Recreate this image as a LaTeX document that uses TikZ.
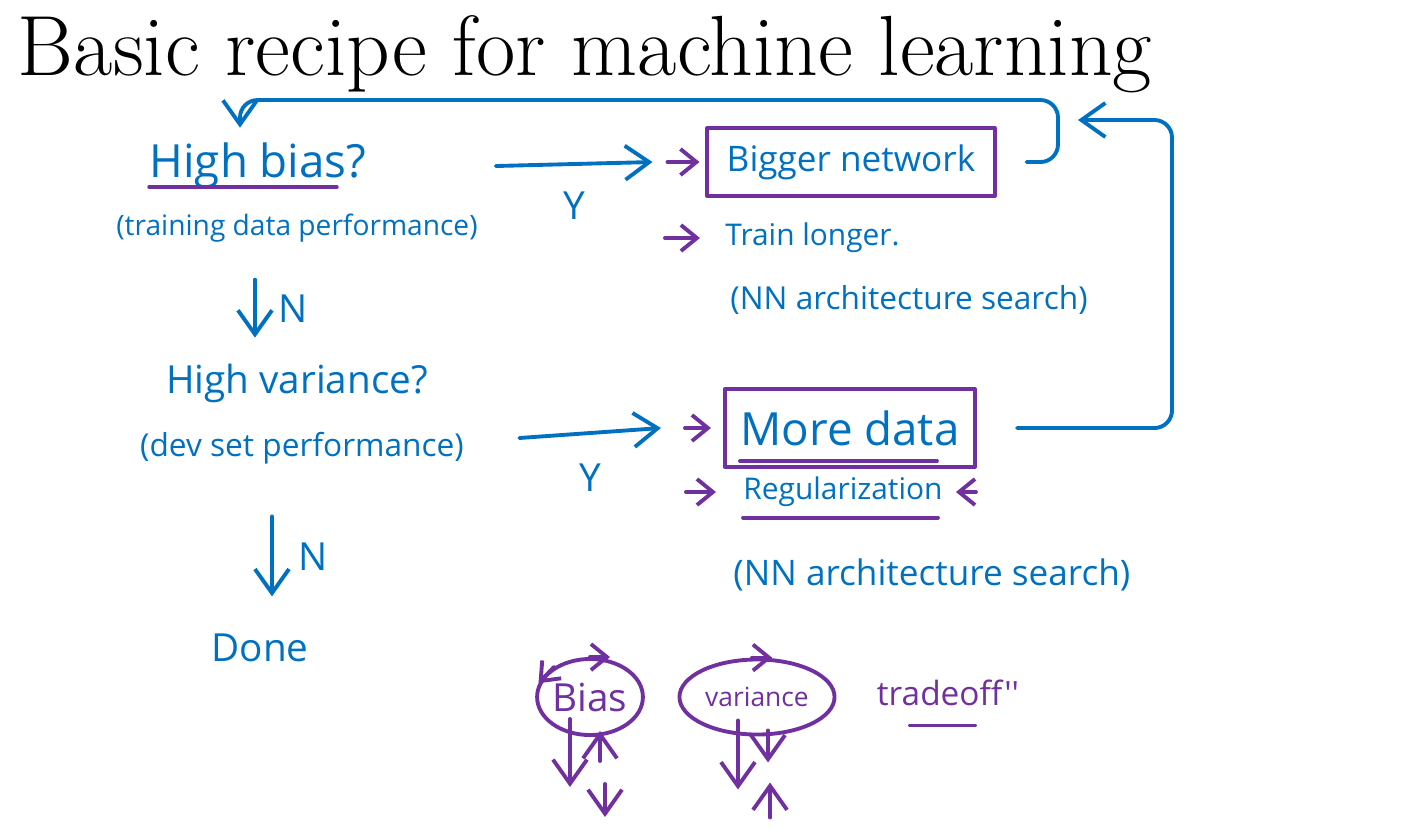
\documentclass[tikz,border=0pt]{standalone}
\usepackage{fontspec}
\newfontfamily\handfont{Open Sans}
\usetikzlibrary{arrows.meta, positioning, shapes.geometric, calc}
\definecolor{inkblue}{HTML}{0070C0}
\definecolor{inkpurple}{HTML}{7030A0}
\tikzset{
  every picture/.style={line width=1.1pt, line cap=round, line join=round},
  hand/.style={text=#1, font=\handfont\fontsize{11}{13}\selectfont, inner sep=1pt},
  hand/.default=inkblue,
  note/.style={hand, font=\handfont\fontsize{9}{11}\selectfont},
  fixbox/.style={hand, draw=inkpurple, inner sep=4pt},
  loopy/.style={ellipse, draw=inkpurple, hand=inkpurple, inner sep=0pt},
  inkarrow/.style={draw=#1, -{Straight Barb[length=2.4mm, width=3.4mm]}},
  inkarrow/.default=inkblue,
  smallarrow/.style={draw=inkpurple, -{Straight Barb[length=1.6mm, width=2.6mm]}},
}

\begin{document}
\begin{tikzpicture}[x=0.01cm, y=-0.01cm]
  \useasboundingbox (0,0) rectangle (1421,838);
  % title
  \node[anchor=base west, inner sep=0pt, font=\fontsize{24.3}{29}\selectfont] (title) at (16,75) {Basic recipe for machine learning};
  % questions, left column
  \node[hand, font=\handfont\fontsize{13}{15}\selectfont] (hb) at (258,166) {High bias?};
  \node[note, font=\handfont\fontsize{8}{10}\selectfont] (hbnote) at (297,228) {(training data performance)};
  \node[hand] (hv) at (297,383) {High variance?};
  \node[note] (hvnote) at (302,448) {(dev set performance)};
  \node[hand] (done) at (260,648) {Done};
  \draw[inkpurple] ([xshift=0.05cm, yshift=2pt]hb.south west) -- ([xshift=-0.35cm, yshift=2pt]hb.south east);
  \draw[inkarrow] ([xshift=-0.42cm, yshift=-0.32cm]hbnote.south) -- ++(0,58) node[midway, right=5pt, hand] {N};
  \draw[inkarrow] ([xshift=-0.3cm, yshift=-0.47cm]hvnote.south) -- ++(0,80) node[midway, right=6pt, hand] {N};
  % fixes, right column
  \node[fixbox, minimum width=2.87cm, minimum height=0.68cm, font=\handfont\fontsize{10}{12}\selectfont] (big) at (851,162) {Bigger network};
  \node[hand, anchor=west, font=\handfont\fontsize{8.5}{10}\selectfont] (train) at (720,238) {Train longer.};
  \node[note, anchor=west] (nas1) at (725,300) {(NN architecture search)};
  \node[fixbox, minimum width=2.5cm, minimum height=0.78cm, font=\handfont\fontsize{13}{15}\selectfont] (more) at (850,428) {More data};
  \node[hand, anchor=west, font=\handfont\fontsize{8.5}{10}\selectfont] (reg) at (738,492) {Regularization};
  \node[note, anchor=west, font=\handfont\fontsize{10}{12}\selectfont] (nas2) at (728,575) {(NN architecture search)};
  \draw[inkpurple] ([xshift=0.17cm, yshift=0.08cm]more.south west) -- ([xshift=-0.4cm, yshift=0.08cm]more.south east);
  \draw[inkpurple] ([xshift=0.05cm, yshift=-1.5pt]reg.south west) -- ([xshift=-0.1cm, yshift=-1.5pt]reg.south east);
  % Y branches
  \draw[inkarrow] ([xshift=1.24cm]hb.east) -- ([xshift=-0.53cm]big.west) node[midway, below=0.22cm, hand] {Y};
  \draw[inkarrow] ([xshift=0.5cm, yshift=0.1cm]hvnote.east) -- ([xshift=-0.62cm]more.west) node[midway, below=0.25cm, hand] {Y};
  \draw[smallarrow] ([xshift=-0.38cm]big.west) -- ([xshift=-0.06cm]big.west);
  \draw[smallarrow] ([xshift=-0.55cm]train.west) -- ([xshift=-0.2cm]train.west);
  \draw[smallarrow] ([xshift=-0.38cm]more.west) -- ([xshift=-0.12cm]more.west);
  \draw[smallarrow] ([xshift=-0.52cm]reg.west) -- ([xshift=-0.22cm]reg.west);
  \draw[smallarrow] ([xshift=0.28cm]reg.east) -- ([xshift=0.08cm]reg.east);
  % loops back to the top
  \coordinate (ltop) at (1058,100);
  \draw[inkarrow, rounded corners=5pt] ([xshift=0.3cm]big.east) -| (ltop) -| ([xshift=-0.18cm, yshift=0.1cm]hb.north);
  \coordinate (rtop) at (1172,120);
  \coordinate (rend) at (1078,120);
  \draw[inkarrow, rounded corners=5pt] ([xshift=0.4cm]more.east) -| (rtop) -- (rend);
  % bias / variance
  \node[loopy, minimum width=1.05cm, minimum height=0.76cm] (bias) at (590,697) {Bias};
  \node[loopy, minimum width=1.55cm, minimum height=0.75cm, font=\handfont\fontsize{7.5}{9}\selectfont] (var) at (757,697) {variance};
  \node[hand=inkpurple, font=\handfont\fontsize{9.5}{11}\selectfont] (trade) at (948,693) {tradeoff''};
  \draw[inkpurple] ([xshift=-0.38cm, yshift=-4pt]trade.south) -- ([xshift=0.27cm, yshift=-4pt]trade.south);
  \draw[smallarrow] ([xshift=0cm]bias.north) -- ([xshift=0.2cm]bias.north);
  \draw[smallarrow] ([xshift=-0.05cm]var.north) -- ([xshift=0.15cm]var.north);
  \draw[smallarrow] (bias.140) -- (bias.165);
  \draw[inkarrow=inkpurple] ([xshift=-0.2cm, yshift=0.18cm]bias.south) -- ++(0,68);
  \draw[inkarrow=inkpurple] ([xshift=0.1cm, yshift=-0.24cm]bias.south) -- ([xshift=0.1cm, yshift=0.06cm]bias.south);
  \draw[inkarrow=inkpurple] ([xshift=0.15cm, yshift=-0.47cm]bias.south) -- ++(0,33);
  \draw[inkarrow=inkpurple] ([xshift=-0.19cm, yshift=0.16cm]var.south) -- ++(0,69);
  \draw[inkarrow=inkpurple] ([xshift=0.11cm, yshift=0.06cm]var.south) -- ++(0,32);
  \draw[inkarrow=inkpurple] ([xshift=0.13cm, yshift=-0.81cm]var.south) -- ([xshift=0.13cm, yshift=-0.46cm]var.south);
\end{tikzpicture}
\end{document}
